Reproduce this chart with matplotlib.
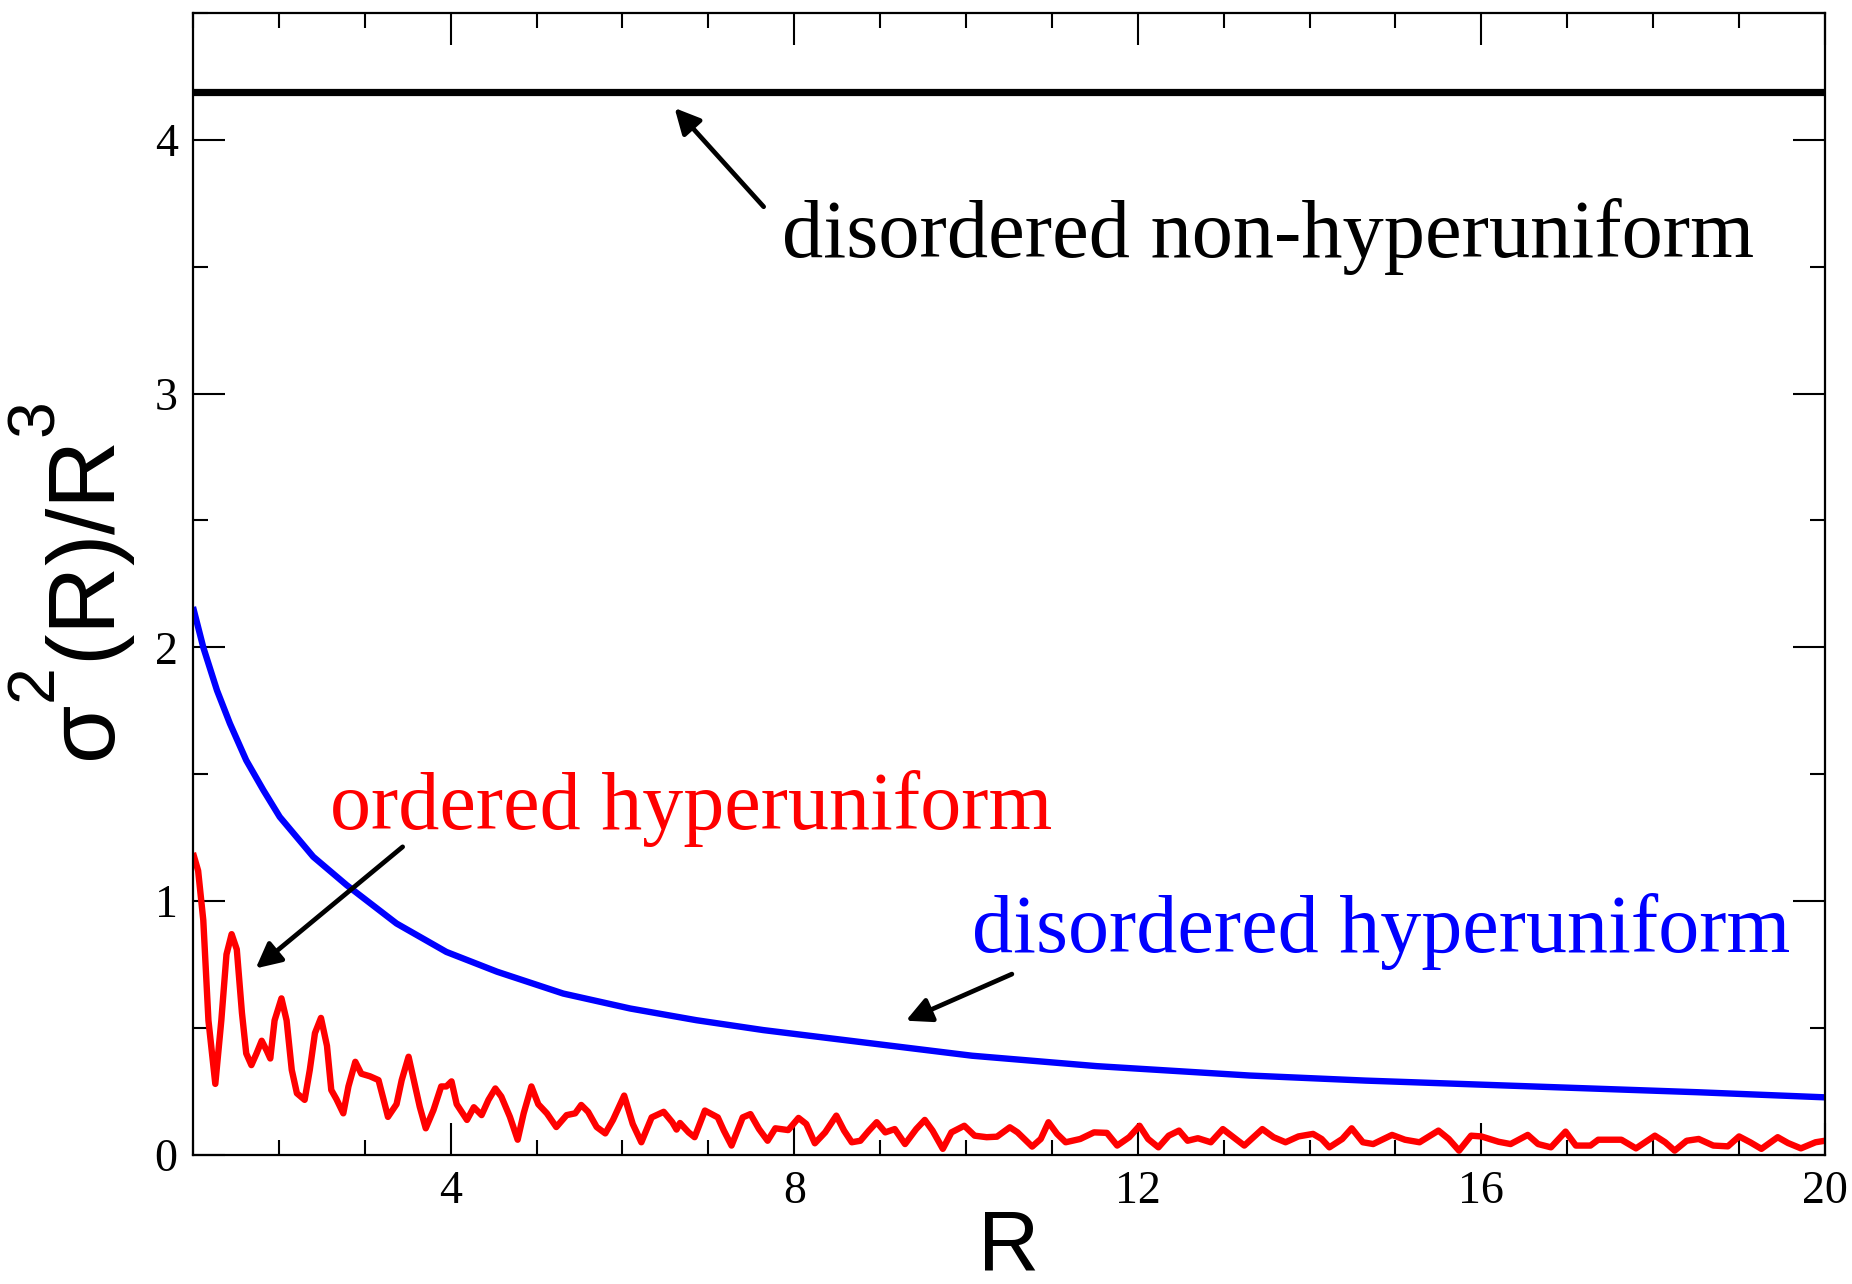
import matplotlib
matplotlib.use("Agg")
import matplotlib.pyplot as plt
from matplotlib.ticker import MultipleLocator

# ---------------- data ----------------
R_ordered = [1.00, 1.06, 1.12, 1.18, 1.26, 1.33, 1.39, 1.45, 1.51, 1.57, 1.62, 1.68, 1.74, 1.80,
             1.86, 1.90, 1.95, 2.03, 2.09, 2.15, 2.21, 2.30, 2.36, 2.42, 2.49, 2.56, 2.61, 2.67,
             2.75, 2.81, 2.89, 2.96, 3.06, 3.16, 3.22, 3.27, 3.37, 3.43, 3.51, 3.58, 3.64, 3.71,
             3.80, 3.89, 3.95, 4.01, 4.07, 4.19, 4.27, 4.36, 4.44, 4.52, 4.59, 4.69, 4.78, 4.85,
             4.94, 5.02, 5.12, 5.23, 5.35, 5.45, 5.52, 5.60, 5.70, 5.80, 5.89, 6.02, 6.12, 6.22,
             6.34, 6.48, 6.58, 6.63, 6.67, 6.77, 6.84, 6.96, 7.11, 7.18, 7.27, 7.40, 7.49, 7.59,
             7.69, 7.78, 7.93, 8.05, 8.14, 8.24, 8.36, 8.49, 8.58, 8.67, 8.77, 8.87, 8.96, 9.06,
             9.17, 9.29, 9.42, 9.52, 9.61, 9.73, 9.83, 9.98, 10.10, 10.24, 10.36, 10.51, 10.60,
             10.77, 10.87, 10.96, 11.06, 11.16, 11.33, 11.49, 11.64, 11.76, 11.90, 12.02, 12.12,
             12.24, 12.36, 12.48, 12.58, 12.70, 12.85, 12.99, 13.09, 13.24, 13.45, 13.58, 13.72,
             13.87, 14.04, 14.14, 14.23, 14.38, 14.49, 14.62, 14.74, 14.96, 15.11, 15.28, 15.50,
             15.62, 15.74, 15.88, 16.00, 16.20, 16.34, 16.54, 16.66, 16.81, 16.98, 17.10, 17.27,
             17.36, 17.63, 17.80, 18.02, 18.14, 18.25, 18.39, 18.53, 18.70, 18.87, 19.00, 19.13,
             19.26, 19.45, 19.57, 19.72, 19.89, 20.00]
sigma_ordered = [1.19, 1.12, 0.925, 0.53, 0.28, 0.53, 0.79, 0.87, 0.81, 0.56, 0.40, 0.354, 0.40, 0.45,
                 0.41, 0.38, 0.53, 0.617, 0.53, 0.335, 0.243, 0.217, 0.335, 0.48, 0.54, 0.43, 0.256, 0.22,
                 0.164, 0.27, 0.367, 0.32, 0.31, 0.295, 0.217, 0.15, 0.20, 0.295, 0.387, 0.28, 0.19, 0.105,
                 0.177, 0.27, 0.27, 0.29, 0.20, 0.138, 0.188, 0.157, 0.217, 0.262, 0.23, 0.15, 0.06, 0.164,
                 0.27, 0.20, 0.164, 0.11, 0.157, 0.164, 0.197, 0.17, 0.11, 0.085, 0.138, 0.234, 0.122, 0.05,
                 0.148, 0.17, 0.129, 0.10, 0.126, 0.089, 0.07, 0.175, 0.148, 0.096, 0.037, 0.148, 0.161, 0.102,
                 0.056, 0.105, 0.098, 0.146, 0.122, 0.046, 0.089, 0.155, 0.096, 0.05, 0.056, 0.096, 0.129, 0.089,
                 0.102, 0.043, 0.102, 0.138, 0.096, 0.024, 0.089, 0.115, 0.076, 0.07, 0.072, 0.109, 0.089,
                 0.033, 0.063, 0.129, 0.083, 0.05, 0.063, 0.089, 0.087, 0.037, 0.07, 0.115, 0.063,
                 0.03, 0.076, 0.096, 0.056, 0.066, 0.05, 0.102, 0.076, 0.037, 0.102, 0.07, 0.05,
                 0.073, 0.083, 0.063, 0.03, 0.063, 0.105, 0.05, 0.043, 0.079, 0.06, 0.05, 0.096,
                 0.063, 0.017, 0.076, 0.073, 0.052, 0.043, 0.079, 0.043, 0.03, 0.092, 0.037, 0.037,
                 0.06, 0.06, 0.026, 0.076, 0.05, 0.017, 0.056, 0.063, 0.037, 0.034, 0.073, 0.05,
                 0.024, 0.07, 0.047, 0.026, 0.05, 0.056]

R_disordered = [1.00, 1.12, 1.28, 1.43, 1.62, 1.82, 2.01, 2.40, 2.79, 3.37, 3.95, 4.54, 5.31,
                6.09, 6.86, 7.64, 8.65, 10.07, 11.52, 13.30, 14.65, 16.59, 18.53, 20.00]
sigma_disordered = [2.159, 2.00, 1.83, 1.70, 1.555, 1.437, 1.332, 1.175, 1.063, 0.912, 0.80, 0.722, 0.636,
                    0.577, 0.531, 0.492, 0.45, 0.391, 0.350, 0.313, 0.293, 0.27, 0.247, 0.227]

R_poisson = [1.0, 20.0]
sigma_poisson = [4.19, 4.19]

x_ticks = [4, 8, 12, 16, 20]
y_ticks = [0, 1, 2, 3, 4]

label_poisson = "disordered non-hyperuniform"
label_ordered = "ordered hyperuniform"
label_disordered = "disordered hyperuniform"

# ---------------- figure ----------------
plt.rcParams['mathtext.fontset'] = 'custom'
plt.rcParams['mathtext.rm'] = 'Liberation Sans'
plt.rcParams['mathtext.it'] = 'Liberation Sans'
try:
    import matplotlib._mathtext as _mt
    _mt.FontConstantsBase.sup1 = 1.2
except Exception:
    pass

fig = plt.figure(figsize=(18.52, 12.84), dpi=100)
ax = fig.add_axes([0.1042, 0.1005, 0.8812, 0.8895])

ax.plot(R_poisson, sigma_poisson, color='black', lw=5.2, solid_capstyle='butt')
ax.plot(R_disordered, sigma_disordered, color='#0000ff', lw=4.6,
        solid_joinstyle='round', solid_capstyle='butt')
ax.plot(R_ordered, sigma_ordered, color='#ff0000', lw=4.6,
        solid_joinstyle='round', solid_capstyle='butt')

ax.set_xlim(1, 20)
ax.set_ylim(0, 4.5)
ax.set_xticks(x_ticks)
ax.set_yticks(y_ticks)
ax.xaxis.set_minor_locator(MultipleLocator(1))
ax.yaxis.set_minor_locator(MultipleLocator(0.5))

for s in ax.spines.values():
    s.set_linewidth(1.6)

ax.tick_params(which='both', direction='in', top=True, right=True, width=1.5)
ax.tick_params(which='major', length=23)
ax.tick_params(which='minor', length=11)
ax.tick_params(axis='x', which='major', pad=11)
ax.tick_params(axis='y', which='major', pad=11)
for lab in ax.get_xticklabels() + ax.get_yticklabels():
    lab.set_fontfamily('Liberation Serif')
    lab.set_fontsize(33)

ax.set_xlabel('R', fontsize=61, family='Liberation Sans', labelpad=-4)
ax.set_ylabel(r'σ$^{2}$(R)/R$^{3}$', fontsize=68, family='Liberation Sans', labelpad=12)

# annotations
ax.text(7.857, 3.539, label_poisson, color='black', fontsize=59.3,
        family='Liberation Serif', ha='left', va='baseline')
ax.text(2.591, 1.286, label_ordered, color='#ff0000', fontsize=59,
        family='Liberation Serif', ha='left', va='baseline')
ax.text(10.065, 0.800, label_disordered, color='#0000ff', fontsize=59,
        family='Liberation Serif', ha='left', va='baseline')

arrow_kw = dict(arrowstyle='-|>', color='black', lw=3.4, mutation_scale=38,
                shrinkA=0, shrinkB=0)
ax.annotate('', xy=(6.607, 4.125), xytext=(7.644, 3.736), arrowprops=arrow_kw)
ax.annotate('', xy=(1.730, 0.735), xytext=(3.441, 1.214), arrowprops=arrow_kw)
ax.annotate('', xy=(9.30, 0.529), xytext=(10.534, 0.7126), arrowprops=arrow_kw)

fig.savefig('out.png', dpi=100)
